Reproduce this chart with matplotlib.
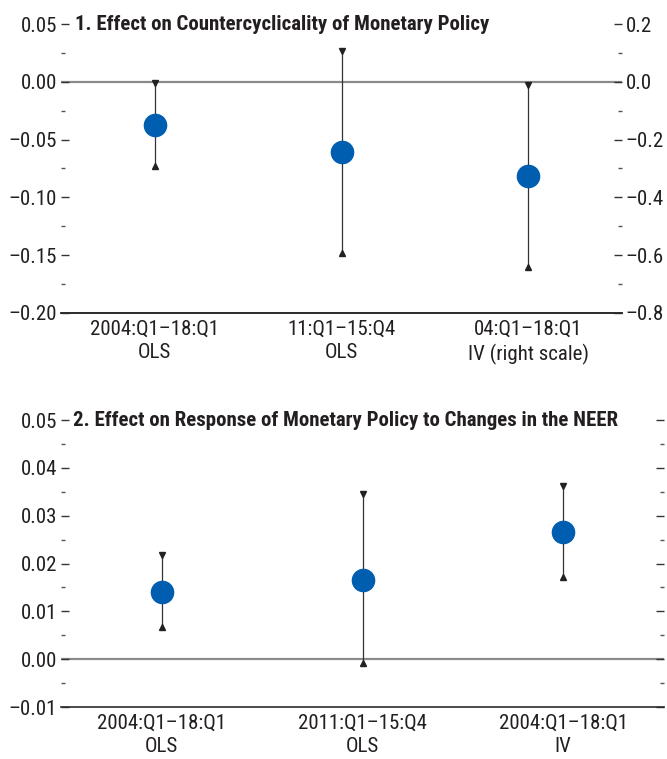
import matplotlib
matplotlib.use('Agg')
import matplotlib.pyplot as plt
from matplotlib.ticker import MultipleLocator, FuncFormatter

plt.rcParams['font.family'] = ['Roboto Condensed', 'DejaVu Sans']

# panel 1: effect on countercyclicality of monetary policy
p1_labels = ['2004:Q1\u201318:Q1\nOLS', '11:Q1\u201315:Q4\nOLS', '04:Q1\u201318:Q1\nIV (right scale)']
p1_est = [-0.037, -0.061, -0.325]
p1_low = [-0.073, -0.148, -0.642]
p1_high = [-0.001, 0.027, -0.010]
p1_right = [False, False, True]

# panel 2: effect on response of monetary policy to changes in the NEER
p2_labels = ['2004:Q1\u201318:Q1\nOLS', '2011:Q1\u201315:Q4\nOLS', '2004:Q1\u201318:Q1\nIV']
p2_est = [0.0140, 0.0166, 0.0265]
p2_low = [0.0068, -0.0008, 0.0171]
p2_high = [0.0218, 0.0345, 0.0362]

BLUE = '#005EB0'
TXT = '#231F20'
FS = 15


def dash_fmt(dec):
    return FuncFormatter(lambda v, p: f'{v:.{dec}f}'.replace('-', '\u2013'))


def style(ax):
    for s in ['top', 'left', 'right']:
        ax.spines[s].set_visible(False)
    ax.spines['bottom'].set_color('#2b2b2b')
    ax.spines['bottom'].set_linewidth(1.2)
    ax.set_facecolor('none')
    ax.tick_params(axis='y', which='major', direction='in', length=6, width=1,
                   color='#333333', labelsize=FS, labelcolor=TXT, pad=3)
    ax.tick_params(axis='y', which='minor', direction='in', length=3, width=1,
                   color='#555555')
    ax.tick_params(axis='x', length=0, labelsize=FS, labelcolor=TXT, pad=5)


def draw_point(ax, x, est, lo, hi):
    ax.plot([x, x], [lo, hi], color='#333333', lw=0.9, zorder=3)
    ax.plot([x], [hi], marker='v', color='#222222', ms=4, zorder=4)
    ax.plot([x], [lo], marker='^', color='#222222', ms=4, zorder=4)
    ax.plot([x], [est], marker='o', color=BLUE, ms=17, mec='none', zorder=5)


fig = plt.figure(figsize=(6.67, 7.59), dpi=100)

# ---- top panel
ax1 = fig.add_axes([0.092, 0.588, 0.840, 0.380])
ax1r = ax1.twinx()
style(ax1)
style(ax1r)
ax1.set_xlim(-0.5, 2.5)
ax1.set_ylim(-0.20, 0.05)
ax1r.set_ylim(-0.8, 0.2)
ax1.yaxis.set_major_locator(MultipleLocator(0.05))
ax1.yaxis.set_minor_locator(MultipleLocator(0.025))
ax1.yaxis.set_major_formatter(dash_fmt(2))
ax1r.yaxis.set_major_locator(MultipleLocator(0.2))
ax1r.yaxis.set_minor_locator(MultipleLocator(0.1))
ax1r.yaxis.set_major_formatter(dash_fmt(1))
ax1.axhline(0, color='#8a8a8a', lw=1.6, zorder=1)
ax1.set_xticks(range(len(p1_labels)))
ax1.set_xticklabels(p1_labels, linespacing=1.3)

for i in range(len(p1_est)):
    target = ax1r if p1_right[i] else ax1
    draw_point(target, i, p1_est[i], p1_low[i], p1_high[i])

ax1.text(0.024, 1.0, '1. Effect on Countercyclicality of Monetary Policy',
         transform=ax1.transAxes, ha='left', va='center', fontsize=FS,
         fontweight='bold', color=TXT)

# ---- bottom panel
ax2 = fig.add_axes([0.092, 0.0685, 0.903, 0.378])
style(ax2)
ax2.set_xlim(-0.5, 2.5)
ax2.set_ylim(-0.01, 0.05)
ax2.yaxis.set_major_locator(MultipleLocator(0.01))
ax2.yaxis.set_minor_locator(MultipleLocator(0.005))
ax2.yaxis.set_major_formatter(dash_fmt(2))
ax2.tick_params(axis='y', which='both', right=True)
ax2.axhline(0, color='#8a8a8a', lw=1.6, zorder=1)
ax2.set_xticks(range(len(p2_labels)))
ax2.set_xticklabels(p2_labels, linespacing=1.3)

for i in range(len(p2_est)):
    draw_point(ax2, i, p2_est[i], p2_low[i], p2_high[i])

ax2.text(0.02, 1.0, '2. Effect on Response of Monetary Policy to Changes in the NEER',
         transform=ax2.transAxes, ha='left', va='center', fontsize=FS,
         fontweight='bold', color=TXT)

fig.savefig('out.png', dpi=100)
